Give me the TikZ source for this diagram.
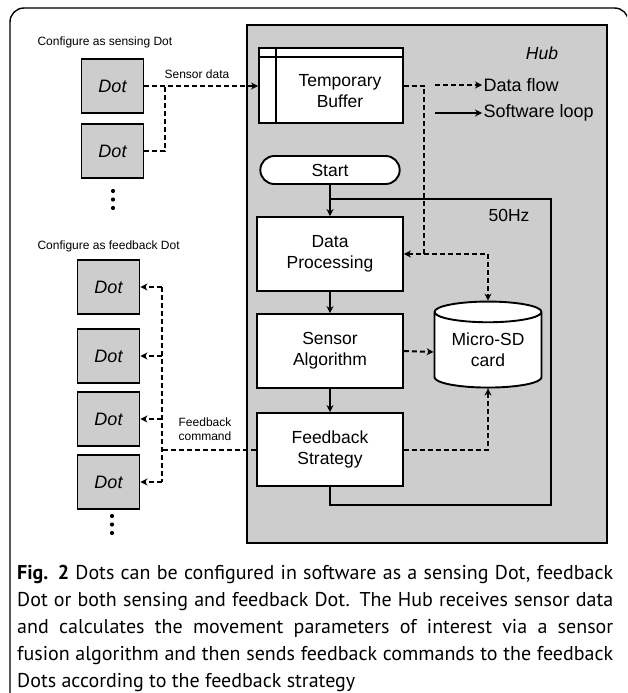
\documentclass[tikz,border=0pt]{standalone}
\usepackage{fontspec}
\setmainfont{Liberation Sans}
\newfontfamily\capfont{PT Sans}
\usetikzlibrary{shapes.geometric, shapes.misc, arrows.meta, positioning, calc}
\definecolor{hubgray}{RGB}{205,205,205}

\tikzset{
  dotbox/.style={draw, fill=hubgray, line width=1.9pt, minimum width=62pt, minimum height=54pt, font=\fontsize{18}{21}\selectfont\itshape},
  procbox/.style={draw, fill=white, line width=1.9pt, minimum width=146pt, minimum height=74pt, align=center, font=\fontsize{17.5}{21}\selectfont},
  smalltxt/.style={font=\fontsize{12}{14.5}\selectfont, align=center},
  bigtxt/.style={font=\fontsize{17.5}{21}\selectfont, align=center},
  dataflow/.style={line width=2pt, dash pattern=on 5pt off 3pt},
  swloop/.style={line width=1.9pt},
  arr/.style={-{Stealth[length=7pt,width=7pt]}}
}

\begin{document}
\begin{tikzpicture}[x=1pt, y=-1pt]
  \useasboundingbox (0,0) rectangle (627,693);
  \clip (0,0) rectangle (627,693);
  % outer frame
  \draw[line width=1.4pt, rounded corners=14pt] (10,8) rectangle (628.5,730);

  % Hub
  \node[draw, fill=hubgray, line width=1.9pt, minimum width=360pt, minimum height=518pt] (hub) at (427,284) {};
  \node[bigtxt, font=\fontsize{17.5}{21}\selectfont\itshape] (hubname) at (542,53) {Hub};

  % sensing dots
  \node[smalltxt, anchor=west] (senslabel) at (34,42) {Configure as sensing Dot};
  \node[dotbox] (s1) at (112.5,86) {Dot};
  \node[dotbox] (s2) at (112.5,151) {Dot};
  \foreach \y in {191,199.5,208} \fill (113,\y) circle (2.1);

  % feedback dots
  \node[smalltxt, anchor=west] (fblabel) at (34,246) {Configure as feedback Dot};
  \node[dotbox] (f1) at (108.5,287) {Dot};
  \node[dotbox] (f2) at (108.5,356) {Dot};
  \node[dotbox] (f3) at (108.5,419) {Dot};
  \node[dotbox] (f4) at (108.5,482) {Dot};
  \foreach \y in {516,524.5,533} \fill (112,\y) circle (2.1);

  % hub blocks
  \node[procbox, minimum width=144pt, minimum height=75pt] (buf) at (331,85.5) {};
  \draw[line width=1.9pt] ($(buf.north west)+(18,0)$) -- ($(buf.south west)+(18,0)$);
  \draw[line width=1.9pt] ($(buf.north west)+(0,10)$) -- ($(buf.north east)+(0,10)$);
  \node[bigtxt] (buftxt) at (340,91) {Temporary\\Buffer};

  \node[draw, fill=white, rounded rectangle, line width=1.9pt, minimum width=146pt, minimum height=28pt, bigtxt] (st) at (330,170) {Start};
  \node[procbox] (dp) at (330,254) {Data\\Processing};
  \node[procbox] (sa) at (330,351) {Sensor\\Algorithm};
  \node[procbox, minimum height=73pt] (fs) at (330,449.5) {Feedback\\Strategy};
  \node[draw, fill=white, cylinder, shape border rotate=90, aspect=0.26, line width=1.9pt,
        minimum width=107pt, minimum height=86pt, bigtxt] (sd) at (488,352)
    {\raisebox{-8pt}{\begin{tabular}{@{}c@{}}Micro-SD\\card\end{tabular}}};

  % legend
  \node[bigtxt, font=\fontsize{18}{21}\selectfont, anchor=west, inner sep=1.5pt] (lgdata) at (482,85) {Data flow};
  \node[bigtxt, font=\fontsize{18}{21}\selectfont, anchor=west, inner sep=1.5pt] (lgloop) at (482,113) {Software loop};
  \coordinate (lgd0) at (435,85);
  \coordinate (lgl0) at (435,113);
  \draw[dataflow, arr] (lgd0) -- (lgdata.west);
  \draw[swloop, arr] (lgl0) -- (lgloop.west);

  % software loop
  \coordinate (loopbr) at (551,505);
  \coordinate (looptop) at (330,199);
  \node[bigtxt] (hz) at (509,215) {50Hz};
  \draw[swloop, arr] (st) -- (dp);
  \draw[swloop, arr] (dp) -- (sa);
  \draw[swloop, arr] (sa) -- (fs);
  \draw[swloop] (fs.south) |- (loopbr) |- (looptop);

  % data flow
  \node[smalltxt] (sdlabel) at (197,74) {Sensor data};
  \coordinate (sj) at (165,86);
  \draw[dataflow, arr] (s1.east) -- (buf.west |- s1.east);
  \draw[dataflow] (s2.east) -| (sj);
  \coordinate (bj) at (424,254);
  \draw[dataflow, arr] (buf.east) -| (bj) -- (dp.east);
  \draw[dataflow, arr] (bj) -| (sd.north);
  \draw[dataflow, arr] (sa.east) -- (sd.west);
  \draw[dataflow, arr] (fs.east) -| (sd.south);

  \node[smalltxt, font=\fontsize{12}{14}\selectfont] (fblbl) at (205,429) {Feedback\\command};
  \coordinate (fj) at (162,449.5);
  \draw[dataflow] (fs.west) -- (fj);
  \draw[dataflow] (fj |- f1.east) -- (fj |- f4.east);
  \foreach \d in {f1,f2,f3,f4}
    \draw[dataflow, arr] (fj |- \d.east) -- (\d.east);

  % caption
  \node[anchor=north west, inner sep=0, text width=596pt, align=justify,
        font=\capfont\fontsize{20}{27}\selectfont] (cap) at (17,565)
    {\hyphenpenalty=10000\relax
     \textbf{Fig. 2} Dots can be configured in software as a sensing Dot, feedback\linebreak
     Dot or both sensing and feedback Dot. The Hub receives sensor data\linebreak
     and calculates the movement parameters of interest via a sensor\linebreak
     fusion algorithm and then sends feedback commands to the feedback\linebreak
     Dots according to the feedback strategy};
\end{tikzpicture}
\end{document}
